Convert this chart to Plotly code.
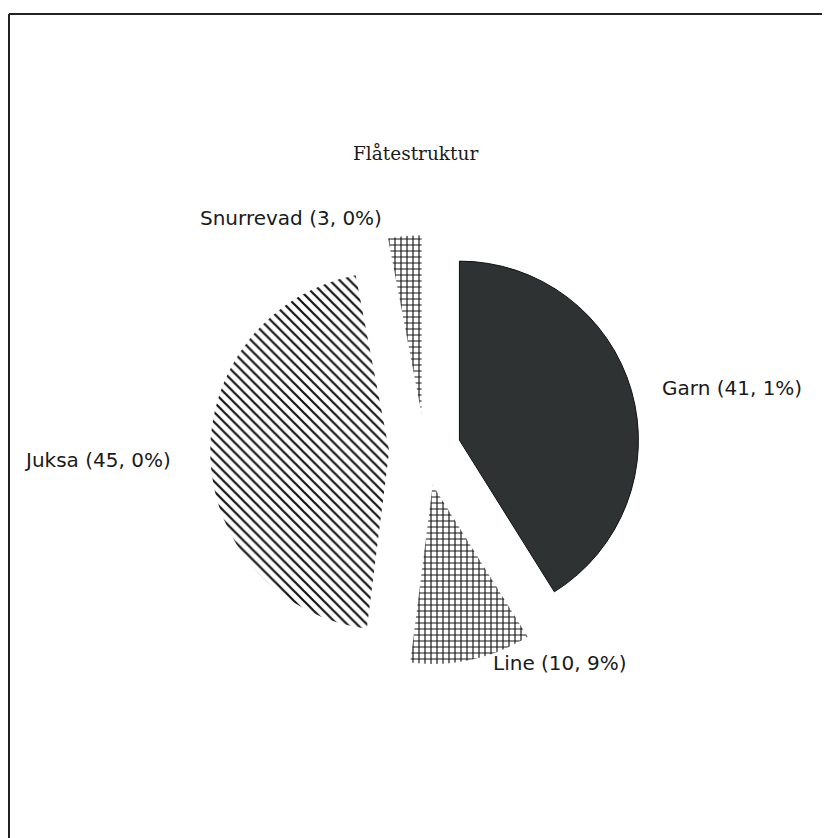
import plotly.graph_objects as go

# Data
categories = ["Garn", "Line", "Juksa", "Snurrevad"]
shares = [41.1, 10.9, 45.0, 3.0]
patterns = ["", "+", "\\", "+"]
fills = ["#2e3233", "white", "white", "white"]
pulls = [0.2, 0.2, 0.2, 0.2]
title_text = "Flåtestruktur"

def fmt(v):
    return f"{v:.1f}".replace(".", ", ")

label_texts = [f"{c} ({fmt(v)}%)" for c, v in zip(categories, shares)]

W, H = 830, 838
OFF = 8  # page body margin offset
cx, cy, r = 425 - OFF, 450 - OFF, 179
box = r * (2 + 2 * max(pulls))
dx0 = (cx - box / 2) / W
dx1 = (cx + box / 2) / W
dy0 = 1 - (cy + box / 2) / H
dy1 = dy0 + box / H

fig = go.Figure(go.Pie(
    labels=categories,
    values=shares,
    sort=False,
    direction="clockwise",
    rotation=0,
    pull=pulls,
    textinfo="none",
    hoverinfo="label+percent",
    showlegend=False,
    domain=dict(x=[dx0, dx1], y=[dy0, dy1]),
    marker=dict(
        colors=fills,
        line=dict(color=["#111111", "rgba(0,0,0,0)", "rgba(0,0,0,0)", "rgba(0,0,0,0)"],
                  width=[1, 0, 0, 0]),
        pattern=dict(shape=patterns, fgcolor="#151515", bgcolor="white",
                     size=[6, 6, 7, 6], solidity=[0.35, 0.35, 0.32, 0.35], fillmode="replace"),
    ),
))

label_pos = {
    "Garn": (732, 388),
    "Line": (560, 663),
    "Juksa": (97, 460),
    "Snurrevad": (291, 218),
}
annotations = []
for c, t in zip(categories, label_texts):
    x, y = label_pos[c]
    annotations.append(dict(
        x=(x - OFF) / W, y=1 - (y - OFF) / H, xref="paper", yref="paper", text=t, showarrow=False,
        xanchor="center", yanchor="middle",
        font=dict(family="DejaVu Sans", size=20, color="#1a1a1a"),
    ))
annotations.append(dict(
    x=(415 - OFF) / W, y=1 - (153 - OFF) / H, xref="paper", yref="paper", text=title_text,
    showarrow=False, xanchor="center", yanchor="middle",
    font=dict(family="DejaVu Serif", size=18.5, color="#1a1a1a"),
))

fx, fy = (9 - OFF) / W, 1 - (14 - OFF) / H
shapes = [
    dict(type="line", xref="paper", yref="paper", x0=fx, x1=1.0, y0=fy, y1=fy,
         line=dict(color="#222222", width=2)),
    dict(type="line", xref="paper", yref="paper", x0=fx, x1=fx, y0=fy, y1=0,
         line=dict(color="#222222", width=2)),
]

fig.update_layout(
    width=W, height=H,
    margin=dict(l=0, r=0, t=0, b=0),
    paper_bgcolor="white",
    plot_bgcolor="white",
    annotations=annotations,
    shapes=shapes,
)

fig.write_html("out.html")
